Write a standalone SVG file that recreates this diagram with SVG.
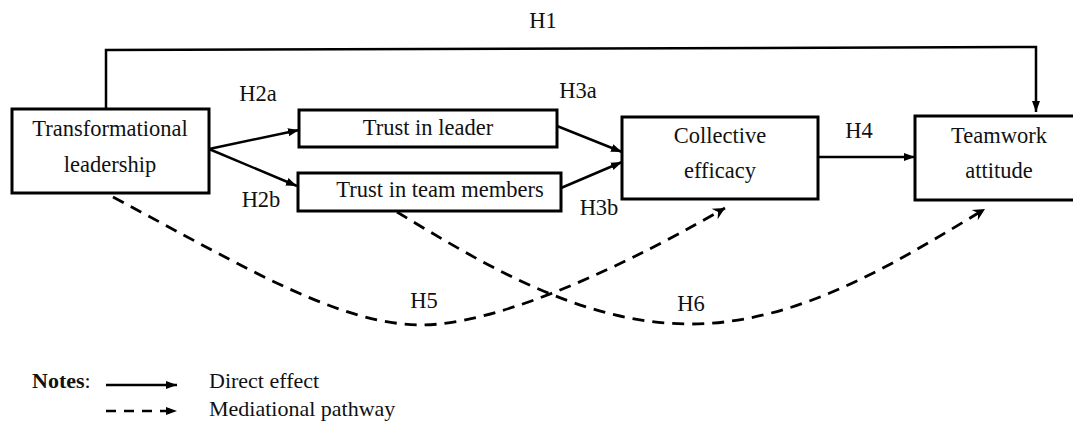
<svg xmlns="http://www.w3.org/2000/svg" width="1073" height="421" viewBox="0 0 1073 421">
<defs>
<style>
.box{fill:#fff;stroke:#000;stroke-width:3}
.t{font-family:"Liberation Serif","Times New Roman",serif;font-size:22.5px;fill:#111;text-anchor:middle}
.l{font-family:"Liberation Serif","Times New Roman",serif;font-size:22px;fill:#111}
.solid{fill:none;stroke:#000;stroke-width:2.5}
.dash{fill:none;stroke:#000;stroke-width:2.8;stroke-dasharray:12 8}
</style>
<marker id="ah" markerUnits="userSpaceOnUse" markerWidth="12" markerHeight="10" refX="11" refY="5" orient="auto">
<path d="M0,1 L11,5 L0,9 z" fill="#000"/>
</marker>
<marker id="ad" markerUnits="userSpaceOnUse" markerWidth="14" markerHeight="14" refX="12" refY="7" orient="auto">
<path d="M0,1 L12,7 L0,13 L4,7 z" fill="#000"/>
</marker>
</defs>
<g id="connectors">
<path class="solid" d="M106,109 L106,50 L1036,47 L1036,112" marker-end="url(#ah)"/>
<line class="solid" x1="209" y1="149" x2="299" y2="130" marker-end="url(#ah)"/>
<line class="solid" x1="209" y1="149" x2="297" y2="186" marker-end="url(#ah)"/>
<line class="solid" x1="557" y1="126" x2="622" y2="152" marker-end="url(#ah)"/>
<line class="solid" x1="561" y1="188" x2="622" y2="162" marker-end="url(#ah)"/>
<line class="solid" x1="818" y1="157" x2="915" y2="157" marker-end="url(#ah)"/>
<path class="dash" d="M113,197 C250,270 340,325 423,325 C490,324 600,280 725,208" marker-end="url(#ad)"/>
<path class="dash" d="M397,212 C480,262 580,324 690,324 C800,324 900,260 985,209" marker-end="url(#ad)"/>
</g>
<g id="node-tl">
<rect class="box" x="12" y="109" width="197" height="84"/>
<text class="t" x="110" y="136">Transformational</text>
<text class="t" x="110" y="172">leadership</text>
</g>
<g id="node-til">
<rect class="box" x="299" y="110" width="258" height="37"/>
<text class="t" x="428" y="135">Trust in leader</text>
</g>
<g id="node-ttm">
<rect class="box" x="298" y="173" width="263" height="38"/>
<text class="t" x="440" y="197">Trust in team members</text>
</g>
<g id="node-ce">
<rect class="box" x="622" y="117" width="196" height="82"/>
<text class="t" x="720" y="143">Collective</text>
<text class="t" x="720" y="178">efficacy</text>
</g>
<g id="node-ta">
<rect class="box" x="915" y="116" width="162" height="84"/>
<text class="t" x="999" y="143">Teamwork</text>
<text class="t" x="999" y="178">attitude</text>
</g>
<g id="labels">
<text class="t" x="543" y="28">H1</text>
<text class="t" x="258" y="101">H2a</text>
<text class="t" x="261" y="207">H2b</text>
<text class="t" x="578" y="98">H3a</text>
<text class="t" x="599" y="215">H3b</text>
<text class="t" x="859" y="138">H4</text>
<text class="t" x="424" y="308">H5</text>
<text class="t" x="691" y="311">H6</text>
</g>
<g id="legend">
<text class="l" x="32" y="388" font-weight="bold">Notes<tspan font-weight="normal">:</tspan></text>
<line class="solid" x1="106" y1="385" x2="177" y2="385" marker-end="url(#ah)"/>
<text class="l" x="209" y="388">Direct effect</text>
<line class="solid" x1="106" y1="411" x2="177" y2="411" stroke-dasharray="10 8" stroke-width="3" marker-end="url(#ah)"/>
<text class="l" x="209" y="416">Mediational pathway</text>
</g>
</svg>
